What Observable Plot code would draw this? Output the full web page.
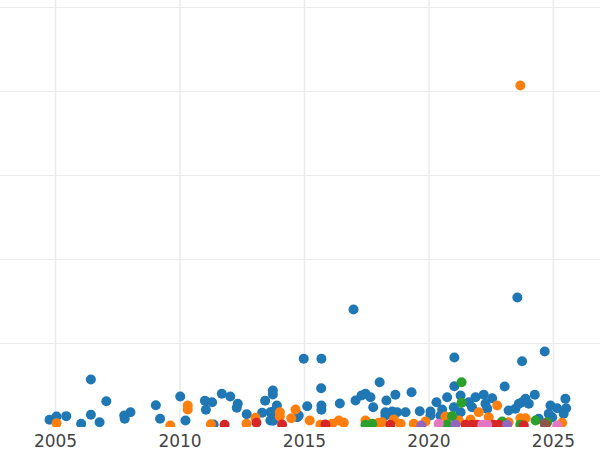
<!DOCTYPE html>
<html>
<head>
<meta charset="utf-8">
<script src="https://cdn.jsdelivr.net/npm/d3@7"></script>
<script src="https://cdn.jsdelivr.net/npm/@observablehq/plot@0.6"></script>
<style>
  html, body { margin: 0; padding: 0; background: #fff; }
  #chart { width: 600px; height: 450px; }
</style>
</head>
<body>
<div id="chart"></div>
<script>
// Series names (legend not shown in the reference)
const seriesNames = ["A", "B", "C", "D", "E", "F", "G"];
const seriesColors = ["#1f77b4", "#ff7f0e", "#2ca02c", "#d62728", "#9467bd", "#8c564b", "#e377c2"];

// Series A (blue)
const yearsA = [2004.76, 2005.04, 2005.43, 2006.42, 2007.04, 2006.42, 2006.03, 2006.77, 2007.76, 2008.01,
  2007.78, 2009.03, 2009.20, 2010.01, 2010.22, 2011.35, 2011.00, 2011.04, 2011.29, 2011.68,
  2012.02, 2012.32, 2012.28, 2012.68, 2013.30, 2013.42, 2013.63, 2013.63, 2013.73, 2013.73,
  2013.89, 2013.77, 2013.74, 2014.97, 2015.68, 2015.67, 2015.11, 2015.68, 2015.68, 2016.42,
  2017.05, 2017.29, 2017.45, 2014.71, 2014.77, 2018.02, 2018.65, 2019.30, 2018.29, 2017.76,
  2017.65, 2018.25, 2018.25, 2018.52, 2018.72, 2019.06, 2019.63, 2020.06, 2020.06, 2020.30,
  2020.53, 2020.46, 2020.73, 2021.02, 2021.02, 2023.04, 2021.27, 2021.87, 2022.20, 2022.54,
  2021.60, 2021.73, 2022.27, 2022.34, 2021.00, 2021.27, 2023.20, 2024.65, 2023.74, 2024.25,
  2023.88, 2023.74, 2023.61, 2023.47, 2024.01, 2024.88, 2025.15, 2025.48, 2025.51, 2025.41,
  2024.81, 2024.95, 2024.41, 2016.97, 2023.55];
const valuesA = [0.92, 1.31, 1.35, 5.71, 3.13, 1.51, 0.44, 0.63, 1.43, 1.82,
  1.04, 2.65, 1.04, 3.69, 0.83, 0.36, 3.18, 2.11, 3.01, 4.01,
  3.69, 2.82, 2.35, 1.58, 1.75, 3.18, 1.82, 0.83, 4.40, 3.93,
  2.62, 1.94, 0.80, 8.18, 8.18, 4.68, 2.54, 2.62, 2.11, 2.86,
  3.21, 3.81, 4.01, 1.23, 1.43, 5.39, 3.89, 4.20, 3.21, 2.42,
  3.61, 1.82, 1.43, 1.90, 1.82, 1.82, 1.94, 1.90, 1.43, 3.01,
  2.14, 1.43, 3.61, 8.33, 4.92, 4.88, 3.81, 3.61, 3.89, 3.49,
  3.01, 2.42, 2.82, 2.23, 2.42, 1.82, 2.02, 9.05, 7.89, 3.89,
  3.42, 3.01, 2.82, 2.23, 2.82, 2.62, 2.30, 3.42, 2.30, 1.63,
  1.63, 1.23, 1.04, 14.05, 15.48];

// Series B (orange)
const yearsB = [2005.04, 2009.61, 2010.31, 2010.31, 2011.24, 2012.67, 2013.03, 2014.01, 2014.01, 2014.64,
  2014.47, 2015.21, 2015.64, 2016.11, 2016.38, 2016.58, 2017.45, 2017.98, 2018.12, 2018.59,
  2018.86, 2019.39, 2019.86, 2022.74, 2020.66, 2022.00, 2022.40, 2021.67, 2021.20, 2023.67,
  2023.88, 2023.20, 2025.35, 2023.67];
const valuesB = [0.51, 0.24, 2.62, 2.14, 0.39, 0.44, 1.15, 1.82, 1.31, 2.14,
  1.11, 0.83, 0.32, 0.44, 0.83, 0.56, 0.83, 0.56, 0.63, 0.95,
  0.44, 0.44, 0.71, 2.62, 1.31, 1.82, 1.23, 0.95, 0.83, 1.11,
  1.11, 0.63, 0.56, 40.71];

// Series C (green)
const yearsC = [2017.45, 2017.72, 2020.73, 2021.31, 2021.31, 2020.93, 2022.94, 2024.28, 2023.67, 2024.75];
const valuesC = [0.32, 0.44, 0.36, 5.39, 2.94, 1.35, 0.71, 0.83, 0.32, 0.63];

// Series D (red)
const yearsD = [2011.79, 2013.07, 2014.10, 2015.84, 2018.45, 2021.47, 2021.73, 2021.94, 2022.60, 2022.80, 2023.81, 2024.68];
const valuesD = [0.32, 0.56, 0.36, 0.36, 0.32, 0.32, 0.32, 0.32, 0.32, 0.32, 0.24, 0.32];

// Series E (purple)
const yearsE = [2019.69, 2021.06, 2023.14];
const valuesE = [0.24, 0.36, 0.32];

// Series F (brown)
const yearsF = [2024.65];
const valuesF = [0.44];

// Series G (pink)
const yearsG = [2020.39, 2022.14, 2022.34, 2025.15];
const valuesG = [0.44, 0.32, 0.32, 0.24];

// Axis ticks
const xTicks = [2005, 2010, 2015, 2020, 2025];
const yGrid = [10, 20, 30, 40, 50];

const allYears = [yearsA, yearsB, yearsC, yearsD, yearsE, yearsF, yearsG];
const allValues = [valuesA, valuesB, valuesC, valuesD, valuesE, valuesF, valuesG];
const data = [];
allYears.forEach((ys, i) => {
  ys.forEach((y, j) => data.push({year: y, value: allValues[i][j], series: seriesNames[i]}));
});

const chart = Plot.plot({
  width: 600,
  height: 450,
  marginTop: 0,
  marginBottom: 23,
  marginLeft: 0,
  marginRight: 0,
  style: {fontFamily: "DejaVu Sans", background: "#fff"},
  x: {domain: [2002.79, 2026.89], label: null},
  y: {domain: [0, 50.83], label: null},
  color: {domain: seriesNames, range: seriesColors},
  marks: [
    Plot.gridX(xTicks, {stroke: "#ebebeb", strokeOpacity: 1, strokeWidth: 1.5}),
    Plot.gridY(yGrid, {stroke: "#ebebeb", strokeOpacity: 1, strokeWidth: 1}),
    Plot.dot(data, {x: "year", y: "value", fill: "series", r: 5, clip: true}),
    Plot.axisX(xTicks, {tickSize: 0, tickPadding: 7, fontSize: 17, color: "#444", label: null, tickFormat: d => String(d)}),
    Plot.axisY([], {tickSize: 0, label: null})
  ]
});
document.getElementById("chart").appendChild(chart);
</script>
</body>
</html>
